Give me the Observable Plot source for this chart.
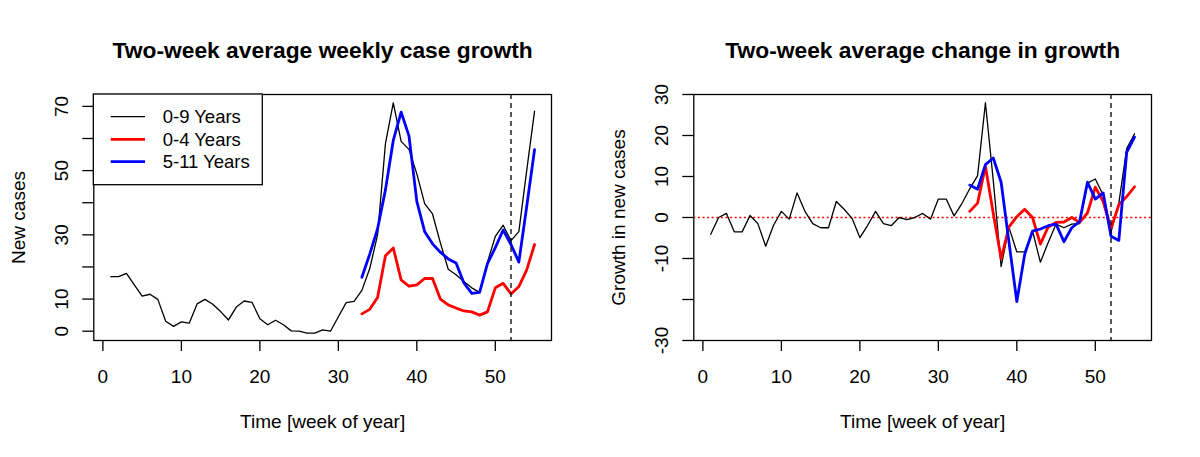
<!DOCTYPE html>
<html><head><meta charset="utf-8">
<script src="https://cdn.jsdelivr.net/npm/d3@7"></script>
<script src="https://cdn.jsdelivr.net/npm/@observablehq/plot@0.6"></script>
<style>
body{margin:0;background:#fff;}
#wrap{display:flex;width:1200px;height:457px;}
</style></head><body><div id="wrap"></div>
<script>
// ---- data ----
const blackStart = 1;
const growth0to9 = [17.0,17.0,18.0,14.4,10.9,11.5,9.9,3.1,1.5,2.9,2.5,8.5,9.9,8.4,6.1,3.5,7.5,9.4,9.0,3.9,2.0,3.4,2.0,0.1,0.0,-0.6,-0.6,0.4,0.0,4.5,8.9,9.3,12.7,19.5,30.0,58.4,71.1,59.1,56.6,49.0,39.7,36.5,27.5,19.3,17.6,15.5,13.5,12.1,21.5,29.5,33.0,28.2,31.0,50.0,68.5];
const growthStart = 33;
const growth0to4 = [5.4,6.8,10.5,23.5,25.9,16.0,14.0,14.4,16.4,16.4,10.0,8.2,7.2,6.3,6.0,5.0,6.0,13.5,14.9,11.6,13.9,19.1,27.0];
const growth5to11 = [16.8,24.0,31.9,44.0,59.4,68.2,60.8,40.4,31.0,27.2,24.6,22.5,21.2,15.0,11.8,12.1,21.0,26.0,31.5,27.0,21.5,38.8,56.5];

const change0to9 = [-4.1,0,1.0,-3.5,-3.5,0.5,-1.5,-7.0,-1.9,1.5,-0.4,6.0,1.5,-1.5,-2.5,-2.5,3.9,2.0,-0.2,-4.9,-1.9,1.5,-1.5,-2.0,0,-0.5,0,1.0,-0.4,4.5,4.5,0.4,3.4,7.0,10.2,28.0,9.0,-12.0,-2.4,-8.4,-8.4,-3.3,-10.9,-6.1,-1.6,-2.5,-1.6,-1.5,8.4,9.4,5.5,-3.5,3.5,16.8,20.4];
const changeStart = 34;
const change0to4 = [1.5,3.5,12.5,1.0,-10.0,-2.3,0.2,2.0,0,-6.5,-2.3,-1.2,-1.1,0,-1.2,1.1,7.4,3.9,-2.7,3.1,5.1,7.5];
const change5to11 = [7.9,6.9,12.9,14.5,8.6,-6.0,-20.5,-9.0,-3.3,-2.8,-2.0,-1.6,-5.9,-2.5,-1.0,8.6,4.5,6.0,-4.6,-5.6,15.9,19.6];

const seriesNames = ["0-9 Years","0-4 Years","5-11 Years"];
const seriesColors = ["black","red","blue"];
const seriesWidths = [1.3,2.8,2.8];
const dashWeek = 52;
const xTicks = [0,10,20,30,40,50];
const xDomain = [-1.16, 57.16];
const leftYTicks = [0,10,20,30,40,50,60,70];
const leftYLabels = [0,10,30,50,70];
const leftYDomain = [-2.9, 73.7];
const rightYTicks = [-30,-20,-10,0,10,20,30];
const rightYLabels = [-30,-10,0,10,20,30];
const rightYDomain = [-30, 30];

const toRows = (vals, start) => vals.map((v, i) => ({week: start + i, value: v}));

const FONT = "Liberation Sans, Arial, Helvetica, sans-serif";
const FS = 19;

function panel({title, ylabel, yDomain, yTicks, yLabels, data, zeroLine, legend}) {
  const frameLeft = 93.3;
  const marks = [
    zeroLine ? Plot.ruleY([0], {stroke: "red", strokeDasharray: "2,2.6", strokeWidth: 1.6}) : null,
    ...data.map((d, i) => Plot.line(d, {x: "week", y: "value", stroke: seriesColors[i], strokeWidth: seriesWidths[i], strokeLinejoin: "round"})),
    Plot.ruleX([dashWeek], {stroke: "black", strokeDasharray: "5,4", strokeWidth: 1.3}),
    Plot.frame({stroke: "black", strokeWidth: 1.3}),
    Plot.axisX({ticks: xTicks, tickSize: 11, tickPadding: 18, tickFormat: d => String(d), fontSize: FS, label: null, strokeWidth: 1.3}),
    Plot.axisY({ticks: yTicks, tickSize: 11, tickFormat: () => "", label: null, strokeWidth: 1.3}),
    Plot.text(yLabels, {y: d => d, text: d => String(d), frameAnchor: "left", dx: 67.5 - frameLeft, rotate: -90, textAnchor: "middle", lineAnchor: "bottom", fontSize: FS}),
    Plot.text([ylabel], {text: d => d, frameAnchor: "left", dx: 24 - frameLeft, rotate: -90, textAnchor: "middle", lineAnchor: "bottom", fontSize: FS}),
    Plot.text(["Time [week of year]"], {text: d => d, frameAnchor: "bottom", dy: 87, lineAnchor: "bottom", fontSize: FS}),
    Plot.text([title], {text: d => d, frameAnchor: "top", dy: -37, lineAnchor: "bottom", fontSize: 22.8, fontWeight: "bold"})
  ];
  const svg = Plot.plot({
    width: 600, height: 457,
    marginLeft: frameLeft, marginRight: 49, marginTop: 94, marginBottom: 117,
    x: {domain: xDomain},
    y: {domain: yDomain},
    style: {fontFamily: FONT, fontSize: FS + "px", background: "white", color: "black", overflow: "visible"},
    marks
  });
  if (legend) {
    const g = d3.select(svg).append("g");
    g.append("rect").attr("x", 93.3).attr("y", 94).attr("width", 169).attr("height", 90.7)
      .attr("fill", "white").attr("stroke", "black").attr("stroke-width", 1.3);
    const rows = [116.7, 139.3, 161.7];
    seriesNames.forEach((name, i) => {
      g.append("line").attr("x1", 110.7).attr("x2", 145).attr("y1", rows[i]).attr("y2", rows[i])
        .attr("stroke", seriesColors[i]).attr("stroke-width", seriesWidths[i]);
      g.append("text").attr("x", 162.7).attr("y", rows[i]).attr("dy", "0.35em")
        .style("text-anchor", "start").style("font-family", FONT).style("font-size", "18.5px")
        .attr("fill", "black").text(name);
    });
  }
  return svg;
}

const wrap = document.getElementById("wrap");
wrap.appendChild(panel({
  title: "Two-week average weekly case growth",
  ylabel: "New cases",
  yDomain: leftYDomain, yTicks: leftYTicks, yLabels: leftYLabels,
  data: [toRows(growth0to9, blackStart), toRows(growth0to4, growthStart), toRows(growth5to11, growthStart)],
  zeroLine: false, legend: true
}));
wrap.appendChild(panel({
  title: "Two-week average change in growth",
  ylabel: "Growth in new cases",
  yDomain: rightYDomain, yTicks: rightYTicks, yLabels: rightYLabels,
  data: [toRows(change0to9, blackStart), toRows(change0to4, changeStart), toRows(change5to11, changeStart)],
  zeroLine: true, legend: false
}));
</script></body></html>
